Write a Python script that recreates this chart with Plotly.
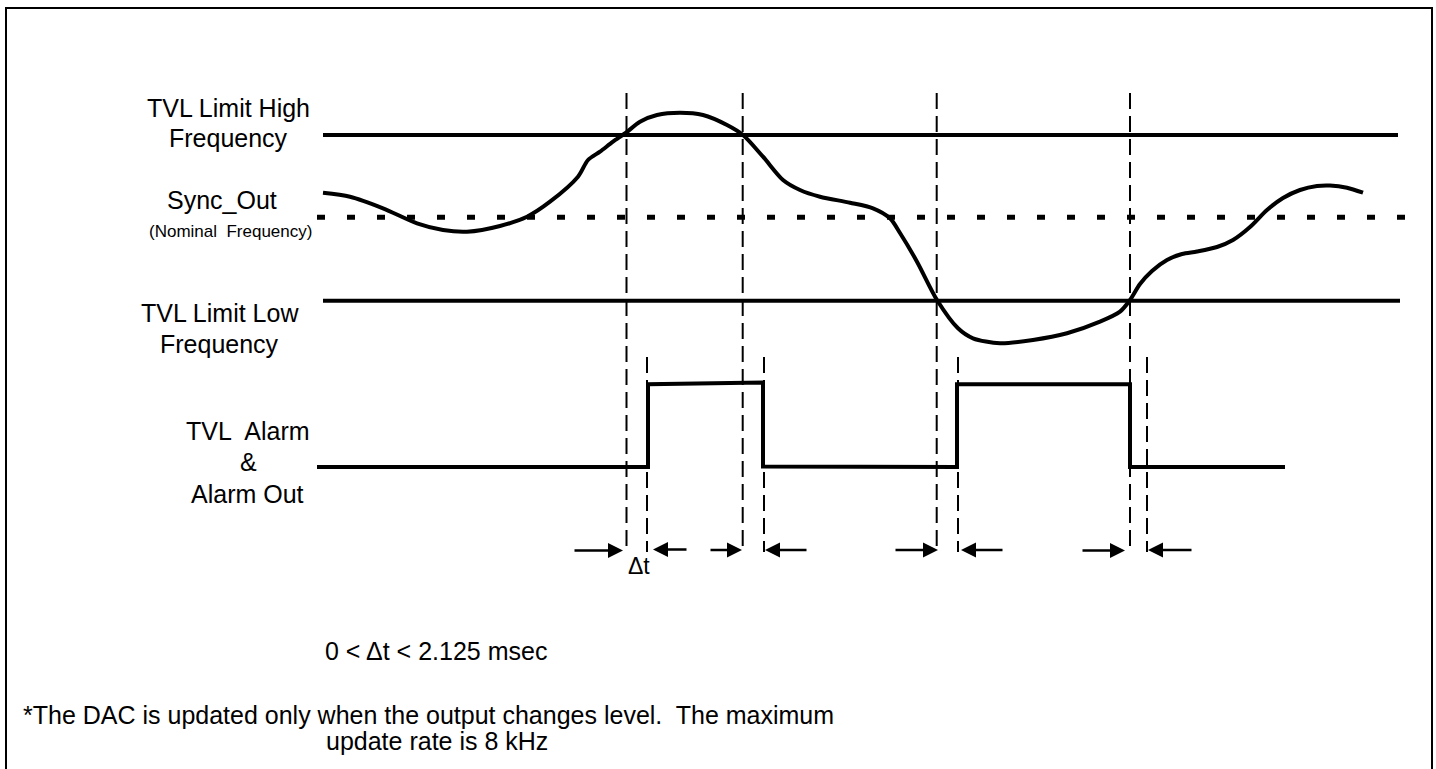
import plotly.graph_objects as go

W, H = 1436, 769
FONT = "Liberation Sans, Arial, sans-serif"

# ---- data (diagram coordinates) ----
# Sync_Out frequency curve
sync_x = [323, 350, 383, 417, 443, 467, 500, 527, 550, 578, 588, 600, 613, 626, 640,
          657, 680, 703, 727, 743, 763, 783, 800, 820, 850, 873, 890, 900, 917, 937,
          958, 973, 1000, 1033, 1067, 1100, 1120, 1130, 1140, 1152, 1167, 1182, 1197,
          1217, 1233, 1250, 1267, 1283, 1300, 1317, 1330, 1347, 1363]
sync_y = [192.7, 196.7, 208.3, 223.3, 230, 231.7, 226, 216.7, 201.7, 176.7, 160, 151.7,
          141.7, 132.7, 121.7, 115, 112.7, 115, 125, 135, 156.7, 180, 190, 196.7, 202.7,
          208.3, 218.3, 233, 261.7, 300, 328.3, 338.3, 343.3, 340, 333.3, 321.7, 311.7,
          300, 284, 271, 260, 254, 251.5, 247, 240, 227, 210, 198, 190, 186, 185.5,
          187.7, 192.7]

# TVL Alarm & Alarm Out digital signal
alarm_x = [317, 648, 648, 763, 763, 957, 957, 1130, 1130, 1285]
alarm_y = [467, 467, 384.3, 382.5, 466.5, 467, 384.3, 384.3, 467, 467]

# reference levels: (x_start, x_end, y)
limit_high = [323, 1398, 135]
nominal = [317, 1405, 217.3]
limit_low = [323, 1400, 300.7]

# vertical timing markers
crossing_x = [626.5, 742.7, 936.7, 1130]
crossing_span = [93, 552]
edge_x = [647, 764, 958, 1147]
edge_span = [357, 552]

# delta-t arrows: tail x, tip x, y
arrow_tail = [573, 688, 709, 808, 894, 1004, 1081, 1193]
arrow_tip = [623, 653, 742, 765, 938, 961, 1125, 1148]
arrow_y = [550.5, 549.5, 550, 550, 550, 550, 550.5, 550]

# frame
frame_x = [6, 6, 1432, 1432]
frame_y = [769, 8, 8, 769]

# text labels: text, x, y(middle), size, xanchor
labels_text = ["TVL Limit High", "Frequency", "Sync_Out", "(Nominal\u00a0 Frequency)",
               "TVL Limit Low", "Frequency", "TVL\u00a0 Alarm", "&", "Alarm Out",
               "\u0394t", "0 < \u0394t < 2.125 msec",
               "*The DAC is updated only when the output changes level.\u00a0 The maximum",
               "update rate is 8 kHz"]
labels_x = [228.5, 228, 222, 230.5, 219.5, 219.5, 248, 248, 247, 639, 323, 21, 324]
labels_y = [108, 138, 199.5, 231, 313, 343.5, 431, 462, 494, 566, 651, 714.5, 741]
labels_size = [25, 25, 25, 17, 25, 25, 25, 25, 25, 23, 25, 25, 25]
labels_anchor = ["center"] * 10 + ["left", "left", "left"]

# ---- figure ----
fig = go.Figure()

fig.add_trace(go.Scatter(x=frame_x, y=frame_y, mode="lines",
                         line=dict(color="black", width=2)))

for lvl in (limit_high, limit_low):
    fig.add_trace(go.Scatter(x=[lvl[0], lvl[1]], y=[lvl[2], lvl[2]], mode="lines",
                             line=dict(color="black", width=4)))
fig.add_trace(go.Scatter(x=[nominal[0], nominal[1]], y=[nominal[2], nominal[2]],
                         mode="lines", line=dict(color="black", width=5, dash="8px,22px")))

for xs, span in ((crossing_x, crossing_span), (edge_x, edge_span)):
    for xv in xs:
        fig.add_trace(go.Scatter(x=[xv, xv], y=span, mode="lines",
                                 line=dict(color="black", width=2, dash="16px,7px")))

fig.add_trace(go.Scatter(x=sync_x, y=sync_y, mode="lines",
                         line=dict(color="black", width=4, shape="spline", smoothing=0.8)))

fig.add_trace(go.Scatter(x=alarm_x, y=alarm_y, mode="lines",
                         line=dict(color="black", width=4)))

for t0, t1, ay in zip(arrow_tail, arrow_tip, arrow_y):
    fig.add_annotation(x=t1, y=ay, ax=t0, ay=ay, xref="x", yref="y", axref="x", ayref="y",
                       text="", showarrow=True, arrowhead=2, arrowsize=1.2,
                       arrowwidth=2.5, arrowcolor="black", standoff=0, startstandoff=0)

for t, xv, yv, sz, anc in zip(labels_text, labels_x, labels_y, labels_size, labels_anchor):
    fig.add_annotation(x=xv, y=yv, xref="x", yref="y", text=t, showarrow=False,
                       xanchor=anc, yanchor="middle",
                       font=dict(family=FONT, size=sz, color="black"))

fig.update_layout(
    width=W, height=H, margin=dict(l=0, r=0, t=0, b=0, pad=0),
    paper_bgcolor="white", plot_bgcolor="white", showlegend=False,
    xaxis=dict(range=[0, W], visible=False, fixedrange=True),
    yaxis=dict(range=[H, 0], visible=False, fixedrange=True),
)

fig.write_html("out.html", config={"displayModeBar": False, "staticPlot": True},
               post_script="document.body.style.margin='0';document.body.style.overflow='hidden';")
